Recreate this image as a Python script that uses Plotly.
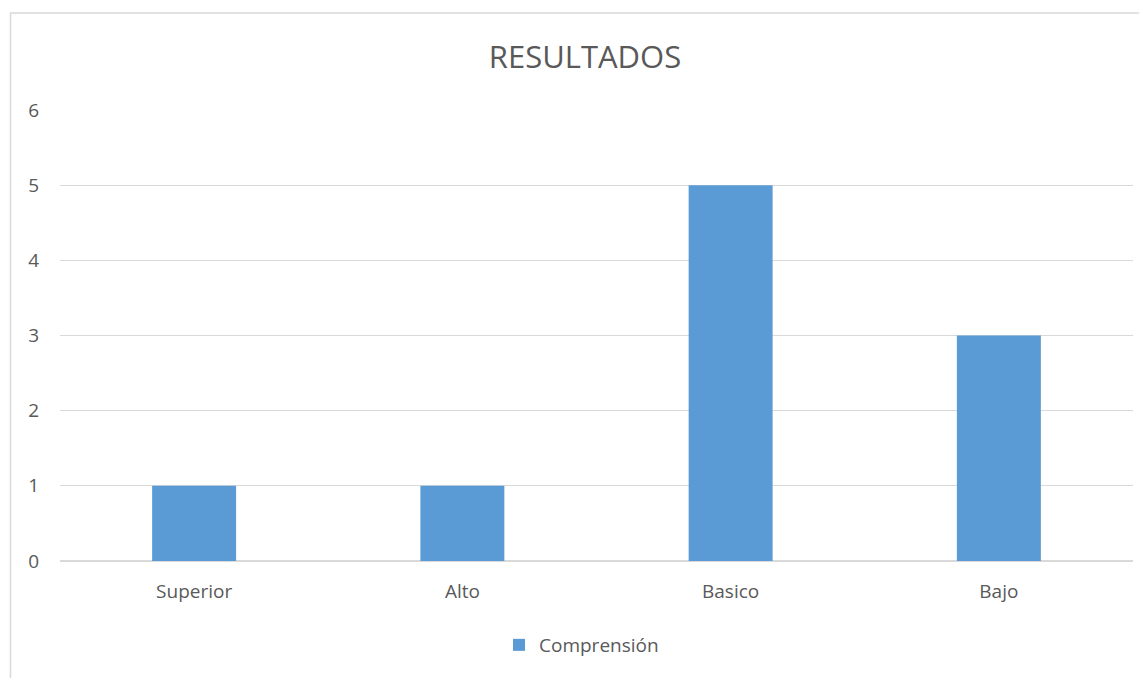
import plotly.graph_objects as go

categories = ["Superior", "Alto", "Basico", "Bajo"]
values = [1, 1, 5, 3]
series_name = "Comprensión"
title_text = "RESULTADOS"
y_ticks = [0, 1, 2, 3, 4, 5, 6]

# page body has an 8px default margin; work in screenshot pixels and shift
OFF = 8
W, H = 1147 - OFF, 678 - OFF
L, R, T, B = 60 - OFF, 14, 110 - OFF, 678 - 561
pw = W - L - R
ph = H - T - B

def px_x(x):
    return (x - OFF - L) / pw

def px_y(y):
    return (H - B - (y - OFF)) / ph

font_family = "Open Sans, Noto Sans, sans-serif"
txt = "#595959"

fig = go.Figure()
fig.add_trace(go.Bar(
    x=categories, y=values, name=series_name,
    marker=dict(color="#5B9BD5", line=dict(width=0)),
    width=0.313,
))

fig.update_layout(
    width=W, height=H,
    margin=dict(l=L, r=R, t=T, b=B),
    paper_bgcolor="white", plot_bgcolor="white",
    font=dict(family=font_family, color=txt, size=19),
    title=dict(text=title_text, x=px_x(585), xref="paper", xanchor="center",
               y=1 - (57 - OFF) / H, yanchor="middle",
               font=dict(size=31, color=txt, family=font_family)),
    showlegend=True,
    legend=dict(orientation="h", x=px_x(499), xanchor="left",
                y=px_y(645), yanchor="middle",
                font=dict(size=19, color=txt), itemwidth=30),
    bargap=0.687,
    shapes=[dict(type="path", xref="paper", yref="paper",
                 path=f"M {px_x(10.5)} {px_y(700)} L {px_x(10.5)} {px_y(13)} L {px_x(1200)} {px_y(13)}",
                 line=dict(color="#D9D9D9", width=1.5), layer="above")],
)
fig.update_xaxes(showgrid=False, showline=False, zeroline=False,
                 ticks="", ticklabelstandoff=17,
                 tickfont=dict(size=19, color=txt))
fig.update_yaxes(range=[0, 6], tickvals=y_ticks, showgrid=True,
                 gridcolor="#D9D9D9", gridwidth=1,
                 zeroline=True, zerolinecolor="#D9D9D9", zerolinewidth=1.5,
                 showline=False, ticks="", ticklabelstandoff=20,
                 tickfont=dict(size=19, color=txt))

fig.write_html("out.html")
